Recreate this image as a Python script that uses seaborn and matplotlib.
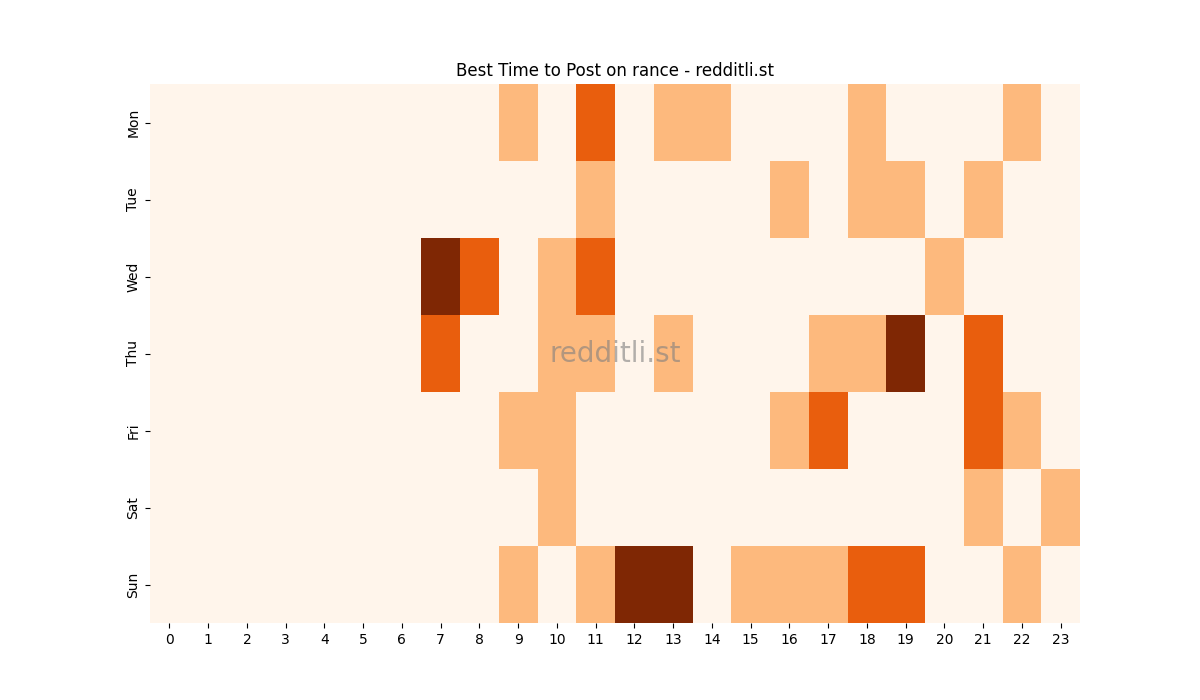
import numpy as np
import pandas as pd
import matplotlib
matplotlib.use("Agg")
import matplotlib.pyplot as plt
import seaborn as sns

days = ["Mon", "Tue", "Wed", "Thu", "Fri", "Sat", "Sun"]
hours = list(range(24))
mon = [0,0,0,0,0,0,0,0,0,1,0,2,0,1,1,0,0,0,1,0,0,0,1,0]
tue = [0,0,0,0,0,0,0,0,0,0,0,1,0,0,0,0,1,0,1,1,0,1,0,0]
wed = [0,0,0,0,0,0,0,3,2,0,1,2,0,0,0,0,0,0,0,0,1,0,0,0]
thu = [0,0,0,0,0,0,0,2,0,0,1,1,0,1,0,0,0,1,1,3,0,2,0,0]
fri = [0,0,0,0,0,0,0,0,0,1,1,0,0,0,0,0,1,2,0,0,0,2,1,0]
sat = [0,0,0,0,0,0,0,0,0,0,1,0,0,0,0,0,0,0,0,0,0,1,0,1]
sun = [0,0,0,0,0,0,0,0,0,1,0,1,3,3,0,1,1,1,2,2,0,0,1,0]

df = pd.DataFrame([mon, tue, wed, thu, fri, sat, sun], index=days, columns=hours)

fig, ax = plt.subplots(figsize=(12, 7), dpi=100)
sns.heatmap(df, cmap="Oranges", vmin=0, vmax=3, cbar=False, ax=ax)
ax.set_title("Best Time to Post on rance - redditli.st")
ax.text(0.5, 0.5, "redditli.st", transform=ax.transAxes, ha="center", va="center",
        fontsize=20, color="gray", alpha=0.6)
fig.savefig("out.png")
